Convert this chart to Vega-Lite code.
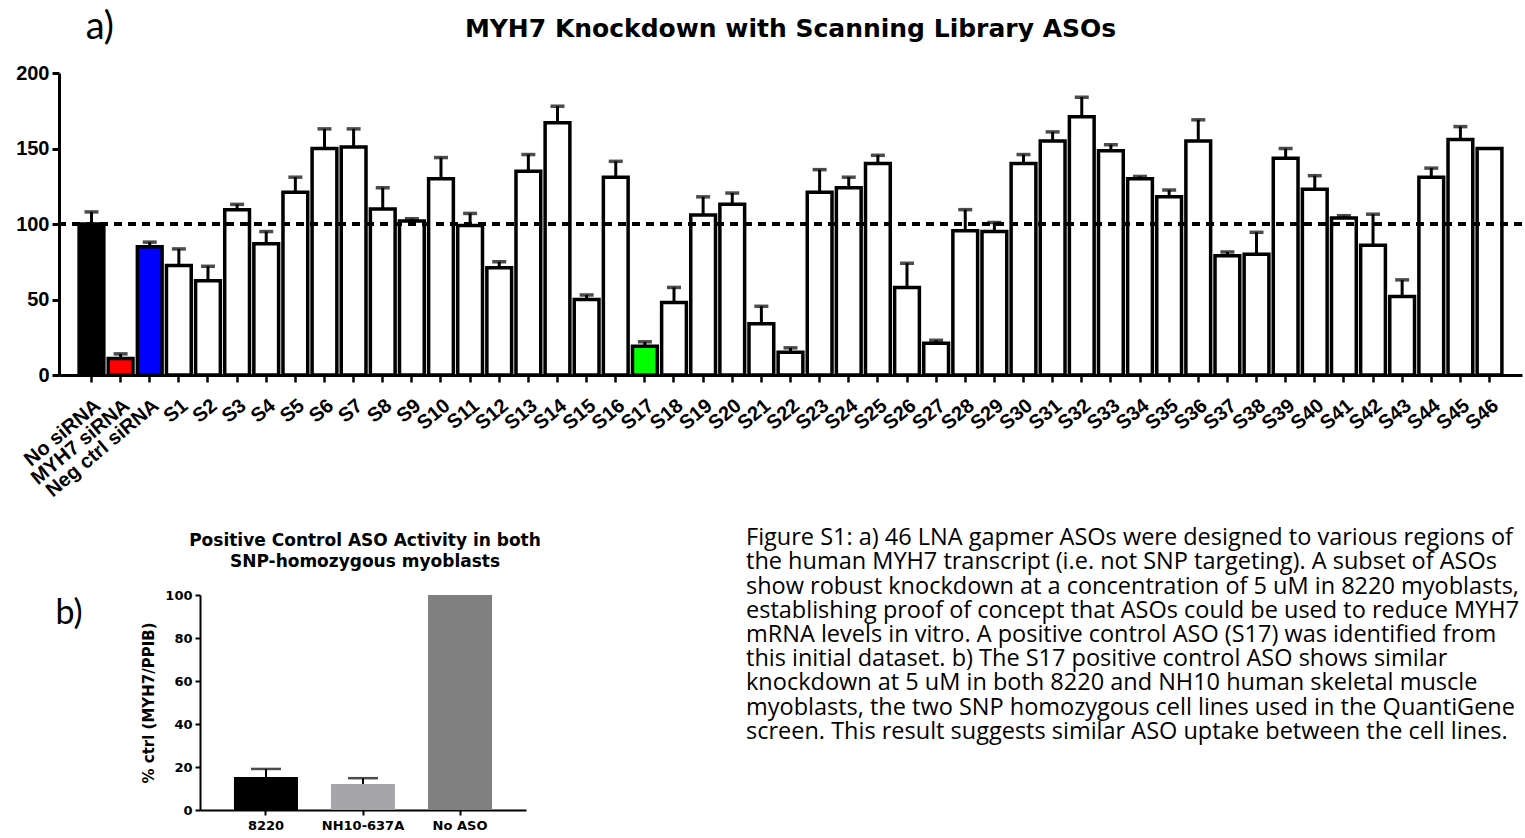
{
  "$schema": "https://vega.github.io/schema/vega-lite/v6.json",
  "background": "white",
  "padding": {"left": 15, "top": 9, "right": 0, "bottom": 0},
  "config": {"view": {"stroke": null}, "font": "Liberation Sans"},
  "resolve": {"scale": {"fill": "independent"}},
  "title": {"text": "a)", "anchor": "start", "font": "Lato", "fontSize": 38, "fontWeight": "normal", "color": "black", "dx": 70, "dy": 34},
  "spacing": 25,
  "vconcat": [
    {
      "width": 1463,
      "height": 302,
      "title": {"text": "MYH7 Knockdown with Scanning Library ASOs", "font": "DejaVu Sans", "fontSize": 25, "fontWeight": "bold", "frame": "group", "anchor": "middle", "offset": 21, "color": "black"},
      "data": {"values": [
        {"name": "No siRNA", "value": 100, "hi": 108, "kind": "none"},
        {"name": "MYH7 siRNA", "value": 11, "hi": 14, "kind": "myh7"},
        {"name": "Neg ctrl siRNA", "value": 85, "hi": 88, "kind": "neg"},
        {"name": "S1", "value": 72.5, "hi": 83.5, "kind": "aso"},
        {"name": "S2", "value": 62.5, "hi": 72, "kind": "aso"},
        {"name": "S3", "value": 109.5, "hi": 113, "kind": "aso"},
        {"name": "S4", "value": 87, "hi": 95, "kind": "aso"},
        {"name": "S5", "value": 121, "hi": 131, "kind": "aso"},
        {"name": "S6", "value": 150, "hi": 163, "kind": "aso"},
        {"name": "S7", "value": 151, "hi": 163, "kind": "aso"},
        {"name": "S8", "value": 110, "hi": 124, "kind": "aso"},
        {"name": "S9", "value": 102, "hi": 103.5, "kind": "aso"},
        {"name": "S10", "value": 130, "hi": 144, "kind": "aso"},
        {"name": "S11", "value": 99, "hi": 107, "kind": "aso"},
        {"name": "S12", "value": 71, "hi": 75, "kind": "aso"},
        {"name": "S13", "value": 135, "hi": 146, "kind": "aso"},
        {"name": "S14", "value": 167, "hi": 178, "kind": "aso"},
        {"name": "S15", "value": 50, "hi": 53, "kind": "aso"},
        {"name": "S16", "value": 131, "hi": 141.5, "kind": "aso"},
        {"name": "S17", "value": 19, "hi": 22, "kind": "pos"},
        {"name": "S18", "value": 48, "hi": 58, "kind": "aso"},
        {"name": "S19", "value": 106, "hi": 118, "kind": "aso"},
        {"name": "S20", "value": 113, "hi": 120.5, "kind": "aso"},
        {"name": "S21", "value": 34, "hi": 45.5, "kind": "aso"},
        {"name": "S22", "value": 15, "hi": 18, "kind": "aso"},
        {"name": "S23", "value": 121, "hi": 136, "kind": "aso"},
        {"name": "S24", "value": 124, "hi": 131, "kind": "aso"},
        {"name": "S25", "value": 140, "hi": 145.5, "kind": "aso"},
        {"name": "S26", "value": 58, "hi": 74, "kind": "aso"},
        {"name": "S27", "value": 21, "hi": 23, "kind": "aso"},
        {"name": "S28", "value": 95.5, "hi": 109.5, "kind": "aso"},
        {"name": "S29", "value": 95, "hi": 101, "kind": "aso"},
        {"name": "S30", "value": 140, "hi": 146, "kind": "aso"},
        {"name": "S31", "value": 155, "hi": 161, "kind": "aso"},
        {"name": "S32", "value": 171, "hi": 184, "kind": "aso"},
        {"name": "S33", "value": 148.5, "hi": 152.5, "kind": "aso"},
        {"name": "S34", "value": 130, "hi": 131.5, "kind": "aso"},
        {"name": "S35", "value": 118, "hi": 122.5, "kind": "aso"},
        {"name": "S36", "value": 155, "hi": 169, "kind": "aso"},
        {"name": "S37", "value": 79, "hi": 81.5, "kind": "aso"},
        {"name": "S38", "value": 80, "hi": 94.5, "kind": "aso"},
        {"name": "S39", "value": 143.5, "hi": 150, "kind": "aso"},
        {"name": "S40", "value": 123, "hi": 132, "kind": "aso"},
        {"name": "S41", "value": 104, "hi": 105.5, "kind": "aso"},
        {"name": "S42", "value": 86, "hi": 106.5, "kind": "aso"},
        {"name": "S43", "value": 52, "hi": 63, "kind": "aso"},
        {"name": "S44", "value": 131, "hi": 137, "kind": "aso"},
        {"name": "S45", "value": 156, "hi": 164.5, "kind": "aso"},
        {"name": "S46", "value": 150, "hi": 150, "kind": "aso"}
      ]},
      "layer": [
        {
          "mark": {"type": "bar", "stroke": "black", "strokeWidth": 3.5},
          "encoding": {
            "x": {
              "field": "name", "type": "nominal", "sort": null,
              "scale": {"paddingInner": 0.15, "paddingOuter": 0.69},
              "axis": {"title": null, "labelAngle": -40, "labelFont": "Liberation Sans", "labelFontSize": 20, "labelFontWeight": "bold", "labelColor": "black", "labelOverlap": false, "labelPadding": 13, "domainColor": "black", "domainWidth": 3, "tickColor": "black", "tickWidth": 2.5, "tickSize": 7}
            },
            "y": {"field": "value", "type": "quantitative", "scale": {"domain": [0, 200]},
              "axis": {"title": null, "values": [0, 50, 100, 150, 200], "grid": false, "labelFont": "Liberation Sans", "labelFontSize": 20, "labelFontWeight": "bold", "labelColor": "black", "labelPadding": 3, "domainColor": "black", "domainWidth": 3, "tickColor": "black", "tickWidth": 3, "tickSize": 7}},
            "fill": {"field": "kind", "type": "nominal", "legend": null,
              "scale": {"domain": ["none", "myh7", "neg", "pos", "aso"], "range": ["#000000", "#ff0000", "#0000ff", "#00ff00", "#ffffff"]}}
          }
        },
        {
          "transform": [{"filter": "datum.hi > datum.value"}],
          "mark": {"type": "rule", "color": "black", "strokeWidth": 3},
          "encoding": {"x": {"field": "name", "type": "nominal", "sort": null}, "y": {"field": "value", "type": "quantitative"}, "y2": {"field": "hi"}}
        },
        {
          "transform": [{"filter": "datum.hi > datum.value"}],
          "mark": {"type": "tick", "color": "black", "size": 14, "thickness": 3.5},
          "encoding": {"x": {"field": "name", "type": "nominal", "sort": null}, "y": {"field": "hi", "type": "quantitative"}}
        },
        {
          "mark": {"type": "rule", "color": "black", "strokeWidth": 2.5, "strokeDash": [8, 6]},
          "encoding": {"y": {"datum": 100}}
        }
      ]
    },
    {
      "spacing": 75,
      "hconcat": [
        {
          "spacing": 17,
          "vconcat": [
            {
              "width": 612,
              "height": 42,
              "data": {"values": [
                {"line": 1, "text": "Positive Control ASO Activity in both"},
                {"line": 2, "text": "SNP-homozygous myoblasts"}
              ]},
              "mark": {"type": "text", "align": "center", "baseline": "middle", "font": "DejaVu Sans", "fontSize": 17, "fontWeight": "bold", "color": "black"},
              "encoding": {
                "y": {"field": "line", "type": "ordinal", "axis": null, "scale": {"type": "point", "padding": 0.5}},
                "text": {"field": "text"}
              }
            },
            {
              "spacing": 58,
              "hconcat": [
                {
                  "width": 20,
                  "height": 4,
                  "data": {"values": [{"label": "b)"}]},
                  "mark": {"type": "text", "font": "Lato", "fontSize": 34, "baseline": "top", "align": "center", "color": "black"},
                  "encoding": {"text": {"field": "label"}}
                },
                {
                  "width": 326,
                  "height": 215,
                  "data": {"values": [
                    {"cell": "8220", "value": 15.3, "hi": 19.1, "shade": "c1"},
                    {"cell": "NH10-637A", "value": 12.1, "hi": 14.8, "shade": "c2"},
                    {"cell": "No ASO", "value": 100, "hi": 100, "shade": "c3"}
                  ]},
                  "encoding": {
                    "x": {"field": "cell", "type": "nominal", "sort": null,
                      "scale": {"paddingInner": 0.34, "paddingOuter": 0.35},
                      "axis": {"title": null, "labelAngle": 0, "labelFont": "DejaVu Sans", "labelFontSize": 13, "labelFontWeight": "bold", "labelColor": "black", "labelPadding": 4, "domainColor": "black", "domainWidth": 2, "tickColor": "black", "tickWidth": 2, "tickSize": 5}}
                  },
                  "layer": [
                    {
                      "mark": {"type": "bar"},
                      "encoding": {
                        "y": {"field": "value", "type": "quantitative", "scale": {"domain": [0, 100]},
                          "axis": {"title": "% ctrl (MYH7/PPIB)", "titleFont": "DejaVu Sans", "titleFontSize": 15, "titleFontWeight": "bold", "titleColor": "black", "titlePadding": 8, "values": [0, 20, 40, 60, 80, 100], "grid": false, "labelFont": "DejaVu Sans", "labelFontSize": 13, "labelFontWeight": "bold", "labelColor": "black", "labelPadding": 3, "domainColor": "black", "domainWidth": 2, "tickColor": "black", "tickWidth": 2, "tickSize": 5}},
                        "fill": {"field": "shade", "type": "nominal", "legend": null,
                          "scale": {"domain": ["c1", "c2", "c3"], "range": ["#000000", "#a6a6aa", "#808080"]}}
                      }
                    },
                    {
                      "transform": [{"filter": "datum.hi > datum.value"}],
                      "mark": {"type": "rule", "color": "black", "strokeWidth": 2},
                      "encoding": {"y": {"field": "value", "type": "quantitative"}, "y2": {"field": "hi"}}
                    },
                    {
                      "transform": [{"filter": "datum.hi > datum.value"}],
                      "mark": {"type": "tick", "color": "black", "size": 30, "thickness": 2.5},
                      "encoding": {"y": {"field": "hi", "type": "quantitative"}}
                    }
                  ]
                }
              ]
            }
          ]
        },
        {
          "width": 778,
          "height": 210,
          "data": {"values": [
            {"line": 1, "text": "Figure S1: a) 46 LNA gapmer ASOs were designed to various regions of"},
            {"line": 2, "text": "the human MYH7 transcript (i.e. not SNP targeting). A subset of ASOs"},
            {"line": 3, "text": "show robust knockdown at a concentration of 5 uM in 8220 myoblasts,"},
            {"line": 4, "text": "establishing proof of concept that ASOs could be used to reduce MYH7"},
            {"line": 5, "text": "mRNA levels in vitro. A positive control ASO (S17) was identified from"},
            {"line": 6, "text": "this initial dataset. b) The S17 positive control ASO shows similar"},
            {"line": 7, "text": "knockdown at 5 uM in both 8220 and NH10 human skeletal muscle"},
            {"line": 8, "text": "myoblasts, the two SNP homozygous cell lines used in the QuantiGene"},
            {"line": 9, "text": "screen. This result suggests similar ASO uptake between the cell lines."}
          ]},
          "mark": {"type": "text", "align": "left", "baseline": "middle", "font": "Open Sans", "fontSize": 23.5, "color": "black"},
          "encoding": {
            "x": {"value": 0},
            "y": {"field": "line", "type": "ordinal", "axis": null, "scale": {"type": "point", "padding": 0.33}},
            "text": {"field": "text"}
          }
        }
      ]
    }
  ]
}
